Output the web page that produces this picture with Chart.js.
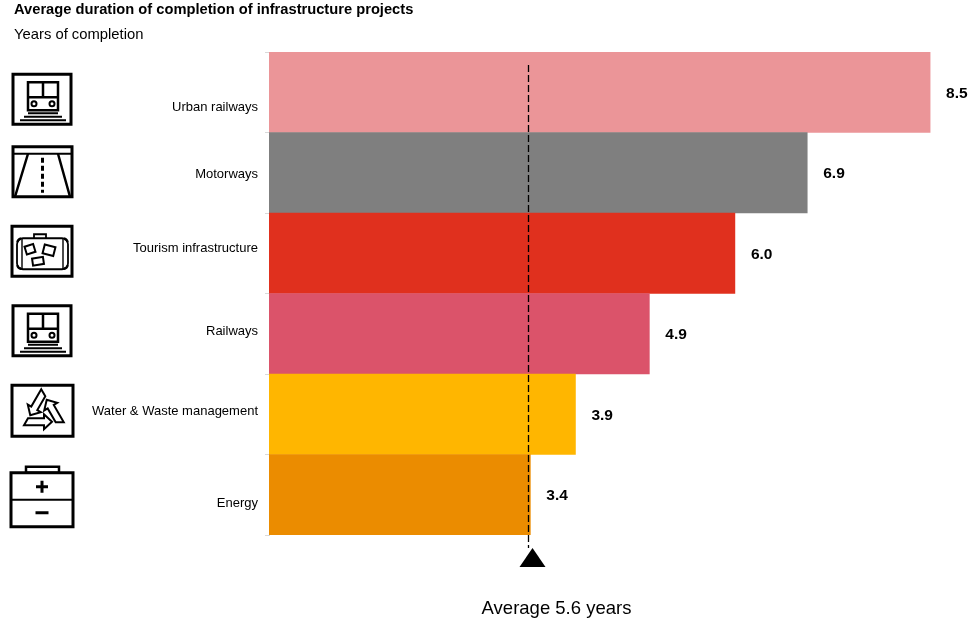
<!DOCTYPE html>
<html>
<head>
<meta charset="utf-8">
<script src="https://cdn.jsdelivr.net/npm/chart.js@4.4.1/dist/chart.umd.min.js"></script>
<style>
  html, body { margin: 0; padding: 0; background: #ffffff; }
  #wrap { width: 971px; height: 628px; position: relative; }
</style>
</head>
<body>
<div id="wrap"><canvas id="c" width="971" height="628"></canvas></div>
<script>
// ---- data ----
const titleText = 'Average duration of completion of infrastructure projects';
const subtitleText = 'Years of completion';
const categories = ['Urban railways', 'Motorways', 'Tourism infrastructure', 'Railways', 'Water & Waste management', 'Energy'];
const iconKinds = ['train', 'road', 'suitcase', 'train', 'recycle', 'battery'];
const durations = [8.5, 6.92, 5.99, 4.89, 3.94, 3.36];
const barColors = ['#EB9598', '#7F7F7F', '#E0301E', '#DB536A', '#FFB600', '#EB8C00'];
const averageYears = 5.6;
const averageMarkerAt = 3.33; // where the reference draws the dashed marker
const xMax = 9;

const FONT = '"Liberation Sans", Arial, Helvetica, sans-serif';

// per-category fine offsets of labels / icons (layout only)
const labelDy = [15, 2, -5, -2, -3, 9];
const iconDy = [7, -1, -2, -3, -3, 2];

function frame(ctx, x, y, w, h) {
  ctx.lineWidth = 3;
  ctx.strokeRect(x, y, w, h);
}

function drawTrain(ctx, cx, cy) {
  const x = cx - 29, y = cy - 25;
  frame(ctx, x, y, 58, 50);
  ctx.lineWidth = 2.5;
  ctx.strokeRect(x + 15, y + 8, 30, 28);
  ctx.beginPath();
  ctx.moveTo(x + 30, y + 8); ctx.lineTo(x + 30, y + 23);
  ctx.moveTo(x + 15, y + 23); ctx.lineTo(x + 45, y + 23);
  ctx.stroke();
  ctx.lineWidth = 2;
  ctx.beginPath(); ctx.arc(x + 21, y + 29.5, 2.5, 0, Math.PI * 2); ctx.stroke();
  ctx.beginPath(); ctx.arc(x + 39, y + 29.5, 2.5, 0, Math.PI * 2); ctx.stroke();
  // tracks
  ctx.lineWidth = 2.2;
  const rows = [[39, 15, 45], [42.5, 11, 49], [46, 7, 53]];
  ctx.beginPath();
  rows.forEach(r => { ctx.moveTo(x + r[1], y + r[0]); ctx.lineTo(x + r[2], y + r[0]); });
  ctx.stroke();
}

function drawRoad(ctx, cx, cy) {
  const x = cx - 29, y = cy - 25;
  frame(ctx, x, y, 59, 50);
  ctx.lineWidth = 2;
  ctx.beginPath(); ctx.moveTo(x, y + 7); ctx.lineTo(x + 59, y + 7); ctx.stroke();
  ctx.lineWidth = 2.5;
  ctx.beginPath();
  ctx.moveTo(x + 15, y + 7); ctx.lineTo(x + 2, y + 50);
  ctx.moveTo(x + 45, y + 7); ctx.lineTo(x + 57, y + 50);
  ctx.stroke();
  ctx.lineWidth = 3;
  ctx.setLineDash([5, 3]);
  ctx.beginPath(); ctx.moveTo(x + 29.5, y + 11); ctx.lineTo(x + 29.5, y + 46); ctx.stroke();
  ctx.setLineDash([]);
}

function rotRect(ctx, cx, cy, w, h, ang) {
  ctx.save(); ctx.translate(cx, cy); ctx.rotate(ang);
  ctx.strokeRect(-w / 2, -h / 2, w, h);
  ctx.restore();
}

function drawSuitcase(ctx, cx, cy) {
  const x = cx - 30, y = cy - 25;
  frame(ctx, x, y, 60, 50);
  ctx.lineWidth = 1.8;
  ctx.beginPath();
  ctx.roundRect(x + 5, y + 12, 51, 31, 6);
  ctx.stroke();
  ctx.lineWidth = 1.4;
  ctx.beginPath();
  ctx.moveTo(x + 10, y + 12); ctx.lineTo(x + 10, y + 43);
  ctx.moveTo(x + 51, y + 12); ctx.lineTo(x + 51, y + 43);
  ctx.stroke();
  ctx.lineWidth = 1.8;
  ctx.beginPath();
  ctx.moveTo(x + 22, y + 12); ctx.lineTo(x + 22, y + 8); ctx.lineTo(x + 34, y + 8); ctx.lineTo(x + 34, y + 12);
  ctx.stroke();
  ctx.lineWidth = 2.4;
  ctx.beginPath();
  ctx.arc(x + 9, y + 16, 3.5, Math.PI, 1.5 * Math.PI);
  ctx.moveTo(x + 55.5, y + 16); ctx.arc(x + 52, y + 16, 3.5, 0, -0.5 * Math.PI, true);
  ctx.moveTo(x + 5.5, y + 39); ctx.arc(x + 9, y + 39, 3.5, Math.PI, 0.5 * Math.PI, true);
  ctx.moveTo(x + 55.5, y + 39); ctx.arc(x + 52, y + 39, 3.5, 0, 0.5 * Math.PI);
  ctx.stroke();
  ctx.lineWidth = 2;
  rotRect(ctx, x + 18, y + 23, 9, 8, -0.3);
  rotRect(ctx, x + 37, y + 24, 11, 9, 0.25);
  rotRect(ctx, x + 26, y + 35, 11, 7, -0.15);
}

function drawRecycle(ctx, cx, cy) {
  const x = cx - 30, y = cy - 26;
  frame(ctx, x, y, 61, 51);
  ctx.lineWidth = 2;
  ctx.lineJoin = 'miter';
  ctx.fillStyle = '#fff';
  for (let k = 0; k < 3; k++) {
    ctx.save();
    ctx.translate(cx + 1, cy + 1);
    ctx.rotate(k * 2 * Math.PI / 3);
    // strip along the bottom side of a triangle, cut at the left corner, arrow head to the right
    ctx.beginPath();
    ctx.moveTo(-19, 13);
    ctx.lineTo(-15, 6);
    ctx.lineTo(1, 6);
    ctx.lineTo(1, 2);
    ctx.lineTo(9, 9.5);
    ctx.lineTo(1, 17);
    ctx.lineTo(1, 13);
    ctx.closePath();
    ctx.fill();
    ctx.stroke();
    ctx.restore();
  }
  ctx.fillStyle = '#000';
}

function drawBattery(ctx, cx, cy) {
  const x = cx - 31, y = cy - 24;
  ctx.lineWidth = 3;
  ctx.strokeRect(x, y, 62, 54);
  ctx.lineWidth = 2.5;
  ctx.strokeRect(x + 15, y - 6, 33, 6);
  ctx.lineWidth = 2;
  ctx.beginPath(); ctx.moveTo(x, y + 27); ctx.lineTo(x + 62, y + 27); ctx.stroke();
  ctx.lineWidth = 3;
  ctx.beginPath();
  ctx.moveTo(x + 25, y + 14); ctx.lineTo(x + 37, y + 14);
  ctx.moveTo(x + 31, y + 8); ctx.lineTo(x + 31, y + 20);
  ctx.moveTo(x + 24.5, y + 40); ctx.lineTo(x + 37.5, y + 40);
  ctx.stroke();
}

const iconDrawers = { train: drawTrain, road: drawRoad, suitcase: drawSuitcase, recycle: drawRecycle, battery: drawBattery };

const decorPlugin = {
  id: 'decor',
  afterDraw(chart) {
    const ctx = chart.ctx;
    const xs = chart.scales.x, ys = chart.scales.y;
    const area = chart.chartArea;
    ctx.save();
    ctx.fillStyle = '#000';
    ctx.strokeStyle = '#000';
    ctx.textBaseline = 'middle';
    ctx.textAlign = 'left';
    ctx.font = 'bold 14.7px ' + FONT;
    ctx.fillText(titleText, 14, 10);
    ctx.font = '14.8px ' + FONT;
    ctx.fillText(subtitleText, 14, 35);

    categories.forEach((cat, i) => {
      const yc = ys.getPixelForValue(i);
      ctx.fillStyle = '#000';
      ctx.font = '13px ' + FONT;
      ctx.textAlign = 'right';
      ctx.fillText(cat, 258, yc + labelDy[i]);
      ctx.font = 'bold 15.5px ' + FONT;
      ctx.textAlign = 'left';
      ctx.fillText(durations[i].toFixed(1), xs.getPixelForValue(durations[i]) + 16, yc + 1);
      ctx.save();
      ctx.strokeStyle = '#000';
      iconDrawers[iconKinds[i]](ctx, 42, yc + iconDy[i]);
      ctx.restore();
    });

    const ax = Math.round(xs.getPixelForValue(averageMarkerAt)) + 0.5;
    ctx.strokeStyle = '#000';
    ctx.fillStyle = '#000';
    ctx.lineWidth = 1.3;
    ctx.setLineDash([7, 3]);
    ctx.beginPath();
    ctx.moveTo(ax, area.top + 13);
    ctx.lineTo(ax, area.bottom + 13);
    ctx.stroke();
    ctx.setLineDash([]);
    const tx = ax + 4;
    ctx.beginPath();
    ctx.moveTo(tx, area.bottom + 13);
    ctx.lineTo(tx + 13, area.bottom + 32);
    ctx.lineTo(tx - 13, area.bottom + 32);
    ctx.closePath();
    ctx.fill();
    ctx.font = '18.5px ' + FONT;
    ctx.textAlign = 'center';
    ctx.fillText('Average ' + averageYears.toFixed(1) + ' years', ax + 28, area.bottom + 74);
    ctx.restore();
  }
};

new Chart(document.getElementById('c'), {
  type: 'bar',
  data: {
    labels: categories,
    datasets: [{
      data: durations,
      backgroundColor: barColors,
      borderWidth: 0,
      barPercentage: 1,
      categoryPercentage: 1
    }]
  },
  options: {
    indexAxis: 'y',
    responsive: false,
    animation: false,
    devicePixelRatio: 1,
    layout: { padding: { left: 0, right: 2, top: 52, bottom: 93 } },
    plugins: { legend: { display: false }, tooltip: { enabled: false }, title: { display: false } },
    scales: {
      x: { display: false, min: 0, max: xMax },
      y: {
        display: true,
        ticks: { display: false },
        grid: { drawOnChartArea: false, color: '#D9D9D9', tickLength: 4, offset: true },
        border: { display: true, color: '#D9D9D9', width: 1 },
        afterFit(scale) { scale.width = 269; }
      }
    }
  },
  plugins: [decorPlugin]
});
</script>
</body>
</html>
